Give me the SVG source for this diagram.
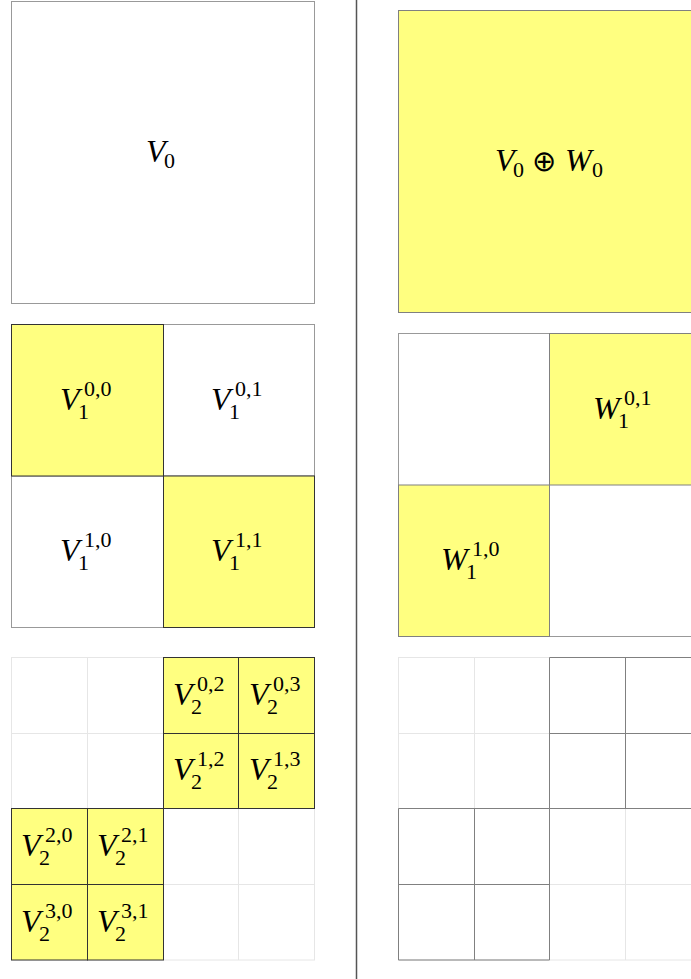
<svg xmlns="http://www.w3.org/2000/svg" width="691" height="979" viewBox="0 0 691 979">
<style>
.m{font-family:"Liberation Serif","DejaVu Serif",serif;font-style:italic;font-size:32px;fill:#000}
.s{font-family:"Liberation Serif","DejaVu Serif",serif;font-size:22px;fill:#000}
.o{font-family:"DejaVu Sans","Liberation Serif",sans-serif;font-weight:200;font-size:29px;fill:#000}
.plain{fill:#fff;stroke:#999;stroke-width:1}
.yd{fill:#ffff80;stroke:#333;stroke-width:1}
.yg{fill:#ffff80;stroke:#808080;stroke-width:1}
.lt{fill:none;stroke:#e6e6e6;stroke-width:1}
.dk{fill:none;stroke:#808080;stroke-width:1}
.dv{stroke:#555;stroke-width:1.5}
</style>
<rect width="691" height="979" fill="#fff"/>
<line class="dv" x1="356.5" y1="0" x2="356.5" y2="979"/>

<g id="V0">
<rect class="plain" x="11.5" y="1.5" width="303" height="302"/>
<text class="m" x="146" y="162">V</text><text class="s" x="164" y="168">0</text>
</g>

<g id="V0W0">
<rect class="yg" x="398.5" y="10.5" width="303" height="302"/>
<text class="m" x="495" y="171">V</text><text class="s" x="513" y="177">0</text>
<text class="o" x="532" y="171">⊕</text>
<text class="m" x="565" y="171">W</text><text class="s" x="592" y="177">0</text>
</g>

<g id="V1">
<rect class="plain" x="11.5" y="324.5" width="303" height="303"/>
<rect class="plain" x="163.5" y="324.5" width="151" height="151.5"/>
<rect class="plain" x="11.5" y="476" width="152" height="151.5"/>
<rect class="yd" x="11.5" y="324.5" width="152" height="151.5"/>
<rect class="yd" x="163.5" y="476" width="151" height="151.5"/>
<text class="m" x="60" y="410">V</text><text class="s" x="78" y="419">1</text><text class="s" x="84" y="396">0,0</text>
<text class="m" x="211" y="410">V</text><text class="s" x="229" y="419">1</text><text class="s" x="235" y="396">0,1</text>
<text class="m" x="60" y="561">V</text><text class="s" x="78" y="570">1</text><text class="s" x="84" y="547">1,0</text>
<text class="m" x="211" y="561">V</text><text class="s" x="229" y="570">1</text><text class="s" x="235" y="547">1,1</text>
</g>

<g id="W1">
<rect class="plain" x="398.5" y="333.5" width="303" height="303"/>
<rect class="yg" x="549.5" y="333.5" width="152" height="151.5"/>
<rect class="yg" x="398.5" y="485" width="151" height="151.5"/>
<text class="m" x="593" y="419">W</text><text class="s" x="618" y="428">1</text><text class="s" x="624" y="405">0,1</text>
<text class="m" x="441" y="570">W</text><text class="s" x="466" y="579">1</text><text class="s" x="472" y="556">1,0</text>
</g>

<g id="V2">
<rect x="11.5" y="657.5" width="303" height="302.5" fill="#fff" stroke="#e6e6e6"/>
<path class="lt" d="M87.5 657.5V960M163.5 657.5V960M238.5 657.5V960M11.5 733.5H314.5M11.5 808.5H314.5M11.5 884.5H314.5"/>
<rect class="yd" x="163.5" y="657.5" width="75" height="76"/>
<rect class="yd" x="238.5" y="657.5" width="76" height="76"/>
<rect class="yd" x="163.5" y="733.5" width="75" height="75"/>
<rect class="yd" x="238.5" y="733.5" width="76" height="75"/>
<rect class="yd" x="11.5" y="808.5" width="76" height="76"/>
<rect class="yd" x="87.5" y="808.5" width="76" height="76"/>
<rect class="yd" x="11.5" y="884.5" width="76" height="75.5"/>
<rect class="yd" x="87.5" y="884.5" width="76" height="75.5"/>
<text class="m" x="173" y="705">V</text><text class="s" x="191" y="714">2</text><text class="s" x="197" y="691">0,2</text>
<text class="m" x="249" y="705">V</text><text class="s" x="267" y="714">2</text><text class="s" x="273" y="691">0,3</text>
<text class="m" x="173" y="780">V</text><text class="s" x="191" y="789">2</text><text class="s" x="197" y="766">1,2</text>
<text class="m" x="249" y="780">V</text><text class="s" x="267" y="789">2</text><text class="s" x="273" y="766">1,3</text>
<text class="m" x="21" y="856">V</text><text class="s" x="39" y="865">2</text><text class="s" x="45" y="842">2,0</text>
<text class="m" x="97" y="856">V</text><text class="s" x="115" y="865">2</text><text class="s" x="121" y="842">2,1</text>
<text class="m" x="21" y="932">V</text><text class="s" x="39" y="941">2</text><text class="s" x="45" y="918">3,0</text>
<text class="m" x="97" y="932">V</text><text class="s" x="115" y="941">2</text><text class="s" x="121" y="918">3,1</text>
</g>

<g id="W2">
<rect x="398.5" y="657.5" width="303" height="302.5" fill="#fff" stroke="#e6e6e6"/>
<path class="lt" d="M474.5 657.5V960M549.5 657.5V960M625.5 657.5V960M398.5 733.5H701.5M398.5 808.5H701.5M398.5 884.5H701.5"/>
<path class="dk" d="M549.5 657.5H701.5M549.5 733.5H701.5M549.5 808.5H701.5M549.5 657.5V808.5M625.5 657.5V808.5"/>
<path class="dk" d="M398.5 808.5H549.5M398.5 884.5H549.5M398.5 960H549.5M398.5 808.5V960M474.5 808.5V960M549.5 808.5V960"/>
</g>
</svg>
